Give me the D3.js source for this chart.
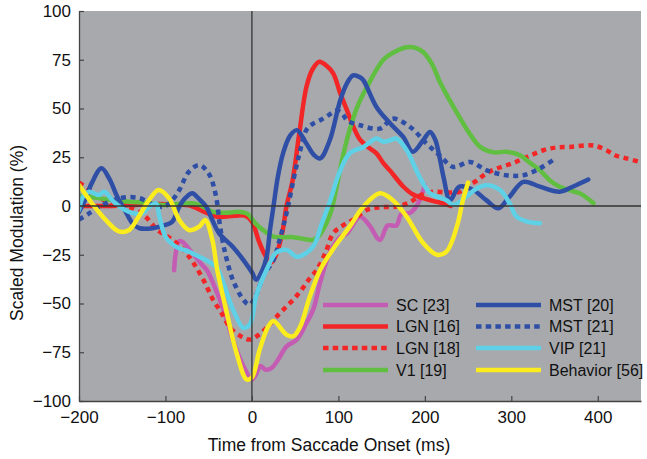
<!DOCTYPE html>
<html>
<head>
<meta charset="utf-8">
<script src="https://cdn.jsdelivr.net/npm/d3@7"></script>
<style>
  body { margin: 0; background: #fff; }
  svg text { font-family: "Liberation Sans", Arial, sans-serif; fill: #111; }
</style>
</head>
<body>
<div id="chartCtn"></div>
<script>
// time (ms) / scaled modulation (%) pairs
const scData = [[-90,-33],[-88,-24],[-84,-18],[-80,-18.5],[-72,-22.5],[-60,-29],[-52,-33],[-45,-39.5],[-33,-53],[-22,-68.5],[-10,-82],[0,-89],[5,-86],[10,-82],[16,-84],[23,-83],[30,-79],[40,-72],[52,-68.5],[63,-60],[71,-53],[79,-39],[90,-24],[102,-16],[110,-14],[125,-5.5],[136,-10],[148,-17.4],[157,-10],[167,-10],[173,-4],[183,-3.5],[190,-0.3],[194,3],[200,10.7]];
const lgn16Data = [[-200,0],[-170,0],[-140,0.5],[-110,1],[-90,0.8],[-70,0],[-55,-3],[-40,-5.5],[-20,-5],[-8,-5],[0,-8],[8,-18],[15,-25],[22,-29],[28,-25],[35,-14],[40,0],[47,13],[55,38],[63,61],[70,70],[78,74],[86,72],[94,68],[102,58],[110,49],[118,40],[125,34],[135,30],[144,27],[152,22],[160,18],[175,10],[186,6],[198,4],[210,2.5],[221,1.4],[230,0]];
const lgn18Data = [[-200,12],[-190,9],[-180,5],[-165,2],[-150,0],[-135,-2],[-123,-5.5],[-110,-12],[-93,-17],[-80,-22],[-68,-29],[-56,-38],[-45,-48],[-35,-55],[-25,-62.5],[-12,-67],[-2,-68.5],[8,-66],[17,-62.5],[28,-57],[40,-51.5],[50,-47],[59,-42],[67,-37],[75,-32.7],[85,-24],[94,-14],[105,-10],[117,-7],[133,-2],[148,-0.7],[167,-0.3],[183,2],[195,5.5],[210,7.3],[225,7],[240,7.3],[248,10],[260,13],[271,16.7],[285,19.5],[302,22],[320,25.5],[337,28.6],[352,30],[368,30.3],[391,31.2],[400,30.5],[410,28.6],[420,26],[433,24.4],[449,22.6]];
const v1Data = [[-200,5],[-188,4.8],[-170,3.5],[-142,2.2],[-120,1.5],[-104,0.5],[-69,1.4],[-60,0.5],[-46,-2.9],[-30,-3.5],[-15,-3],[-5,-4],[4,-8.9],[15,-13],[25,-15.7],[48,-16],[62,-17],[71,-17.4],[78,-15],[86,-9],[92,-2],[98,10],[105,25],[113,39],[122,51],[133,61],[152,75],[165,79],[179,81.4],[190,81],[198,79],[208,73],[217,64],[229,54],[240,45.6],[252,37],[264,30.3],[280,27.5],[294,27.8],[310,26],[322,22],[333,18.4],[345,13],[356,9.9],[368,8],[379,6.5],[388,4],[395,1.4]];
const mst20Data = [[-200,-3],[-193,3],[-185,12],[-174,19.3],[-165,14],[-156,5],[-146,-3],[-138,-9],[-130,-11.4],[-115,-11.4],[-100,-9.7],[-92,-8],[-84,-0.3],[-76,4.5],[-69,6.5],[-62,4],[-53,-0.3],[-45,-8],[-38,-14],[-22,-21],[-10,-27.6],[0,-34],[5,-37.8],[12,-33],[17,-26],[21,-12],[25,0],[30,15],[36,27],[44,36],[52,38.9],[63,32],[72,26],[79,24.4],[90,33.7],[102,54],[110,63],[117,67],[125,66],[129,64.4],[144,50.8],[160,42.3],[175,35.4],[186,27.8],[198,33.7],[206,38],[212,34],[217,25],[222,14],[229,3],[240,9.9],[256,8.2],[271,3],[285,-1.2],[298,4.8],[314,12.4],[333,9.9],[356,7.3],[371,9.9],[389,13.6]];
const mst21Data = [[-200,-7],[-188,-3.7],[-175,0],[-160,3],[-145,4.5],[-130,4],[-120,2],[-111,-0.3],[-100,0],[-92,3],[-84,8.2],[-73,17.5],[-61,21],[-50,16.7],[-42,6],[-37,-10],[-33,-20],[-29,-27.6],[-22,-38],[-10,-48],[-3,-50.6],[5,-45.5],[13,-36],[25,-27.6],[32,-17.4],[40,-3.7],[48,13.3],[55,27],[63,39],[70,42],[79,44],[90,47],[98,49],[105,47],[110,44],[125,41.4],[148,39.7],[163,44.8],[183,40.5],[202,32],[217,26],[233,20],[252,22.6],[271,18.4],[294,15.8],[314,15.8],[333,19.3],[348,23.5]];
const vipData = [[-200,-2],[-195,5],[-188,7.3],[-177,5.6],[-171,7.3],[-158,1.4],[-142,-3],[-128,-4],[-120,-1],[-111,1.4],[-107,-5.5],[-100,-15.7],[-88,-20.8],[-73,-23.4],[-58,-26.7],[-48,-29],[-40,-32],[-33,-39.5],[-22,-53],[-10,-62.5],[-3,-61],[0,-58],[5,-46],[17,-32.7],[28,-24],[40,-22.5],[52,-26],[63,-24],[72,-20],[80,-10],[90,2],[101,17],[113,27],[129,30.3],[144,34.6],[152,33],[160,33.7],[167,34.6],[179,28.6],[190,18.4],[198,11.6],[206,6.5],[214,4.8],[225,3],[233,0.5],[248,4.8],[260,9],[271,10.7],[287,8.2],[298,1.4],[306,-5.5],[318,-8],[333,-8.9]];
const behaviorData = [[-200,10.7],[-185,1.4],[-169,-7.2],[-154,-13],[-142,-12.3],[-131,-5.5],[-119,3],[-108,8.2],[-96,4],[-84,-7.2],[-73,-12.3],[-61,-10.6],[-54,-7.2],[-46,-17],[-40,-33],[-29,-55],[-18,-75],[-6,-89],[0,-88],[9,-73.6],[19,-61.7],[25,-59],[40,-66],[48,-66.8],[56,-61.7],[67,-46.4],[79,-32.7],[94,-22],[113,-10.6],[129,-0.3],[148,6.5],[163,3],[179,-5.5],[198,-19],[214,-25],[225,-23.4],[237,-10.6],[244,3],[250,12]];

const seriesNames = [ "SC [23]", "LGN [16]", "LGN [18]", "V1 [19]", "MST [20]", "MST [21]", "VIP [21]", "Behavior [56]" ];
const seriesData = [ scData, lgn16Data, lgn18Data, v1Data, mst20Data, mst21Data, vipData, behaviorData ];

const xTicks = [ -200, -100, 0, 100, 200, 300, 400 ];
const yTicks = [ -100, -75, -50, -25, 0, 25, 50, 75, 100 ];

// styling
const colors = [ "#c55cb4", "#f22626", "#f22626", "#60be40", "#2f4fa6", "#2f4fa6", "#5fd1e7", "#fbec1e" ];
const dotted = [ false, false, true, false, false, true, false, false ];

const width = 647, height = 459;
const plotLeft = 79, plotRight = 641, plotTop = 11, plotBottom = 401;

const xScale = d3.scaleLinear().domain( [ -200, 450 ] ).range( [ plotLeft, plotRight ] );
const yScale = d3.scaleLinear().domain( [ -100, 100 ] ).range( [ plotBottom, plotTop ] );

const svg = d3.select( "#chartCtn" )
	.append( "svg" )
	.attr( "width", width )
	.attr( "height", height );

svg.append( "defs" ).append( "clipPath" ).attr( "id", "plotClip" )
	.append( "rect" )
	.attr( "x", plotLeft ).attr( "y", plotTop )
	.attr( "width", plotRight - plotLeft ).attr( "height", plotBottom - plotTop );

svg.append( "rect" )
	.attr( "x", plotLeft ).attr( "y", plotTop )
	.attr( "width", plotRight - plotLeft ).attr( "height", plotBottom - plotTop )
	.attr( "fill", "#a8a9ad" );

const line = d3.line()
	.x( d => xScale( d[0] ) )
	.y( d => yScale( d[1] ) )
	.curve( d3.curveCatmullRom.alpha( 0.5 ) );

const plot = svg.append( "g" ).attr( "clip-path", "url(#plotClip)" );

plot.selectAll( "path.series" )
	.data( seriesData )
	.enter()
	.append( "path" )
	.attr( "class", "series" )
	.attr( "d", line )
	.attr( "fill", "none" )
	.attr( "stroke", ( d, i ) => colors[i] )
	.attr( "stroke-width", 4.5 )
	.attr( "stroke-linejoin", "round" )
	.attr( "stroke-linecap", ( d, i ) => dotted[i] ? "butt" : "round" )
	.attr( "stroke-dasharray", ( d, i ) => dotted[i] ? "5,4.5" : null );

// zero lines
plot.append( "line" )
	.attr( "x1", plotLeft ).attr( "x2", plotRight )
	.attr( "y1", yScale( 0 ) ).attr( "y2", yScale( 0 ) )
	.attr( "stroke", "#333" ).attr( "stroke-width", 1.3 );
plot.append( "line" )
	.attr( "x1", xScale( 0 ) ).attr( "x2", xScale( 0 ) )
	.attr( "y1", plotTop ).attr( "y2", plotBottom )
	.attr( "stroke", "#333" ).attr( "stroke-width", 1.3 );

// axes, ticks pointing inward
const xAxis = g => g
	.attr( "transform", `translate(0, ${ plotBottom })` )
	.call( d3.axisBottom( xScale ).tickValues( xTicks ).tickSize( -5 ).tickSizeOuter( 0 ).tickPadding( 10 ) )
	.call( g => g.selectAll( "text" ).attr( "font-size", "17px" ).attr( "fill", "#111" ) );

const yAxis = g => g
	.attr( "transform", `translate(${ plotLeft }, 0)` )
	.call( d3.axisLeft( yScale ).tickValues( yTicks ).tickSize( -5 ).tickSizeOuter( 0 ).tickPadding( 8 ) )
	.call( g => g.selectAll( "text" ).attr( "font-size", "17px" ).attr( "fill", "#111" ) );

svg.append( "g" ).call( xAxis );
svg.append( "g" ).call( yAxis );
svg.selectAll( ".domain" ).attr( "stroke", "#444" ).attr( "stroke-width", 1.3 );
svg.selectAll( ".tick line" ).attr( "stroke", "#444" ).attr( "stroke-width", 1.2 );

svg.append( "text" )
	.attr( "x", 329 )
	.attr( "y", 451 )
	.attr( "text-anchor", "middle" )
	.style( "font-size", "17.5px" )
	.text( "Time from Saccade Onset (ms)" );

svg.append( "text" )
	.attr( "transform", "rotate(-90)" )
	.attr( "x", -233 )
	.attr( "y", 23 )
	.attr( "text-anchor", "middle" )
	.style( "font-size", "17.5px" )
	.text( "Scaled Modulation (%)" );

// legend, two columns of four
const legendRowY = [ 305, 326.5, 348, 370 ];
const legendColX = [ 323, 476 ];
const legend = svg.append( "g" );
const item = legend.selectAll( "g" )
	.data( seriesNames )
	.enter()
	.append( "g" )
	.attr( "transform", ( d, i ) => `translate(${ legendColX[ Math.floor( i / 4 ) ] }, ${ legendRowY[ i % 4 ] })` );

item.append( "line" )
	.attr( "x1", 0 ).attr( "x2", 65 )
	.attr( "y1", 0 ).attr( "y2", 0 )
	.attr( "stroke", ( d, i ) => colors[i] )
	.attr( "stroke-width", 4.5 )
	.attr( "stroke-dasharray", ( d, i ) => dotted[i] ? "5.5,4.2" : null );

item.append( "text" )
	.attr( "x", 73 )
	.attr( "y", 0 )
	.attr( "dy", "0.36em" )
	.style( "font-size", "16px" )
	.text( d => d );
</script>
</body>
</html>
